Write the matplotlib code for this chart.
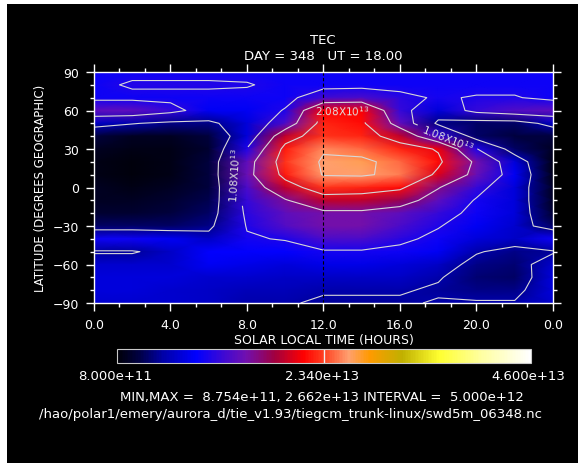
import numpy as np
import matplotlib
matplotlib.use("Agg")
import matplotlib.pyplot as plt
from matplotlib.colors import LinearSegmentedColormap
from matplotlib.patches import Rectangle
from matplotlib.ticker import MultipleLocator

# solar local time (hours) and latitude grid
hours = [0, 2, 4, 6, 8, 10, 12, 14, 16, 18, 20, 22, 24]
lats = [90, 80, 70, 60, 50, 40, 30, 20, 10, 0, -10, -20, -30, -40, -50, -60, -70, -80, -90]

# TEC, units of 1e12, one list per local time column (lat 90 -> -90)
tec_h00 = [10, 10, 10, 14, 7, 3, 2, 1.5, 1.5, 2, 2, 2.5, 4, 10, 5.5, 7.5, 8, 8, 7.5]
tec_h02 = [10, 11.2, 10, 14, 6, 2, 1.5, 1, 1, 1.5, 2, 2.5, 4, 10, 5.5, 7.5, 8, 8, 7.5]
tec_h04 = [10, 11.2, 10, 12, 5, 2, 1.5, 1.5, 1.5, 2, 2.5, 3, 4, 9, 7, 7.5, 8, 7.5, 7.5]
tec_h06 = [10, 11.2, 10, 9, 5, 3, 2.5, 3, 3, 3, 3.5, 4, 5, 7, 9.5, 9, 7.5, 7, 7]
tec_h08 = [10, 11, 10, 9, 8, 8, 11, 14, 14.5, 13, 12, 11.5, 11, 10.5, 9.5, 8.5, 7.5, 6.5, 6]
tec_h10 = [10, 10, 10, 11, 13, 19, 22, 23, 22, 19, 15.5, 14, 13.5, 11, 9.5, 8, 7, 6.5, 6]
tec_h12 = [10, 10, 12.5, 21, 22.5, 23, 25.5, 26.2, 26, 23, 19, 15, 15, 13, 10.5, 8.5, 7, 6, 5.5]
tec_h14 = [10, 10, 13, 21, 21.5, 22.5, 24.5, 26.6, 26.2, 22.5, 19, 15, 15, 13, 10.5, 8.5, 7, 6, 5.5]
tec_h16 = [10, 10, 11.5, 12, 14, 19, 22.5, 24.5, 25, 21.5, 17.5, 14, 13, 11.5, 10, 8, 7, 6, 5.5]
tec_h18 = [10, 10, 10.5, 8, 5, 12, 20.5, 21.5, 20, 16, 14, 12, 11, 10, 9, 7, 6, 5.5, 6]
tec_h20 = [10, 10, 11, 12, 4, 4, 11, 15, 14.5, 12, 10.5, 10, 9, 8, 6, 5, 4.5, 5, 6]
tec_h22 = [10, 10, 11, 13.5, 4, 3, 4, 8, 9, 8, 8, 8, 7.5, 7, 5, 4.5, 4, 5, 6]
tec_h24 = tec_h00

plain_levels = [5.8, 15.8, 25.8]
label_levels = [10.8, 20.8]
vmin, vmax = 0.8, 46.0

cols = [tec_h00, tec_h02, tec_h04, tec_h06, tec_h08, tec_h10, tec_h12,
        tec_h14, tec_h16, tec_h18, tec_h20, tec_h22, tec_h24]
Z = np.array(cols).T

cmap = LinearSegmentedColormap.from_list("idl", [
    (0.00, "#000008"),
    (0.05, "#000040"),
    (0.11, "#0000a8"),
    (0.19, "#0000ff"),
    (0.31, "#7010b0"),
    (0.38, "#a00040"),
    (0.45, "#ff0000"),
    (0.50, "#ff4020"),
    (0.56, "#ffa070"),
    (0.61, "#ff9a00"),
    (0.69, "#c0b000"),
    (0.78, "#ffff30"),
    (0.88, "#ffffa0"),
    (1.00, "#ffffff"),
])

plt.rcParams['font.family'] = ['DejaVu Sans']
fig = plt.figure(figsize=(5.78, 4.64), dpi=100, facecolor="white")
fig.patches.append(Rectangle((7 / 578, 0), 1, 1 - 5 / 464, transform=fig.transFigure,
                             facecolor="black", edgecolor="none", zorder=-10))

ax = fig.add_axes([94 / 578, 1 - 304 / 464, 459 / 578, 231 / 464])
ax.set_facecolor("black")
ax.pcolormesh(hours, lats, Z, shading="gouraud", cmap=cmap, vmin=vmin, vmax=vmax)
ax.contour(hours, lats, Z, levels=plain_levels, colors="#d8d8d8", linewidths=0.8)
cs = ax.contour(hours, lats, Z, levels=label_levels, colors="#d8d8d8", linewidths=0.8)
fmt = {10.8: r"1.08X10$^{13}$", 20.8: r"2.08X10$^{13}$"}
ax.clabel(cs, fmt=fmt, fontsize=7.5, colors="#e0e0e0", inline=True,
          manual=[(7.2, 10), (18.5, 40), (13, 48)])
ax.axvline(12, color="black", linestyle=(0, (3, 2)), linewidth=0.8)

ax.set_xlim(0, 24)
ax.set_ylim(-90, 90)
ax.set_xticks([0, 4, 8, 12, 16, 20, 24])
ax.set_xticklabels(["0.0", "4.0", "8.0", "12.0", "16.0", "20.0", "0.0"])
ax.set_yticks([-90, -60, -30, 0, 30, 60, 90])
ax.xaxis.set_minor_locator(MultipleLocator(4 / 3))
ax.yaxis.set_minor_locator(MultipleLocator(10))
for s in ax.spines.values():
    s.set_color("white")
    s.set_linewidth(1)
ax.tick_params(which="both", direction="out", colors="white", labelcolor="white",
               top=True, right=True, labelsize=9, width=1)
ax.tick_params(which="major", length=6, pad=5)
ax.tick_params(which="minor", length=3)
ax.set_xlabel("SOLAR LOCAL TIME (HOURS)", color="white", fontsize=9, labelpad=1)
ax.set_ylabel("LATITUDE (DEGREES GEOGRAPHIC)", color="white", fontsize=8.5, labelpad=4)

fig.text(323 / 578, 1 - 41 / 464, "TEC", color="white", fontsize=9.5, ha="center", va="center")
fig.text(323 / 578, 1 - 56 / 464, "DAY = 348   UT = 18.00", color="white", fontsize=9.5,
         ha="center", va="center")

cax = fig.add_axes([117 / 578, 1 - 364 / 464, 414 / 578, 14 / 464])
sm = matplotlib.cm.ScalarMappable(cmap=cmap, norm=matplotlib.colors.Normalize(vmin, vmax))
cb = fig.colorbar(sm, cax=cax, orientation="horizontal")
cb.set_ticks([])
cb.outline.set_edgecolor("#c8c8c8")
cax.axvline((vmin + vmax) / 2, color="#f0f0f0", linewidth=1)

fig.text(115 / 578, 1 - 377 / 464, "8.000e+11", color="white", fontsize=9.5, ha="center", va="center")
fig.text(322 / 578, 1 - 377 / 464, "2.340e+13", color="white", fontsize=9.5, ha="center", va="center")
fig.text(528 / 578, 1 - 377 / 464, "4.600e+13", color="white", fontsize=9.5, ha="center", va="center")
fig.text(322 / 578, 1 - 397 / 464, "MIN,MAX =  8.754e+11, 2.662e+13 INTERVAL =  5.000e+12",
         color="white", fontsize=9.5, ha="center", va="center")
fig.text(39 / 578, 1 - 415 / 464,
         "/hao/polar1/emery/aurora_d/tie_v1.93/tiegcm_trunk-linux/swd5m_06348.nc",
         color="white", fontsize=9.5, ha="left", va="center")

fig.savefig("out.png", dpi=100, facecolor=fig.get_facecolor())
